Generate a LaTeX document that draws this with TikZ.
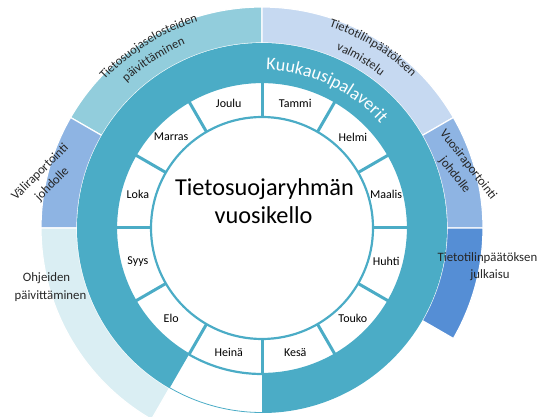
\documentclass[tikz,border=0pt]{standalone}
\usepackage{fontspec}
\setmainfont{Carlito}
\usetikzlibrary{decorations.text}
\definecolor{ringteal}{HTML}{4BACC6}
\definecolor{segteal}{HTML}{92CDDC}
\definecolor{segpale}{HTML}{DAEEF3}
\definecolor{segblue}{HTML}{8EB4E3}
\definecolor{seglight}{HTML}{C6D9F1}
\definecolor{segdark}{HTML}{558ED5}
\definecolor{labelink}{HTML}{262626}
\newcommand\ringsec[5]{%
  \path[#1] (#2:#5) arc[start angle=#2,end angle=#3,radius=#5]
    -- (#3:#4) arc[start angle=#3,end angle=#2,radius=#4] -- cycle;}
\begin{document}
\begin{tikzpicture}[x=1pt,y=1pt,
  seg/.style={draw=white,line width=1.2pt},
  monthlbl/.style={font=\fontsize{12}{14}\selectfont,text=black,inner sep=0pt},
  outerlbl/.style={font=\fontsize{12.8}{17}\selectfont,text=labelink,inner sep=0pt},
  titlelbl/.style={font=\fontsize{24.3}{28}\selectfont,text=black,inner sep=0pt},
  divider/.style={draw=ringteal,line width=3pt},
  rim/.style={draw=ringteal,line width=2.2pt}]
\useasboundingbox (0,0) rectangle (539,-417);
\begin{scope}[shift={(262,-228)}]
  % outer segments
  \ringsec{seg,fill=segteal}{90}{150}{185pt}{221pt}
  \ringsec{seg,fill=segblue}{150}{180}{185pt}{221pt}
  \ringsec{seg,fill=segpale}{180}{240}{185pt}{221pt}
  \ringsec{seg,fill=seglight}{30}{90}{185pt}{221pt}
  \ringsec{seg,fill=segblue}{0}{30}{185pt}{221pt}
  \ringsec{seg,fill=segdark}{-30}{0}{185pt}{221pt}
  % monthly meeting ring
  \ringsec{fill=ringteal}{-90}{240}{146pt}{185pt}
  \draw[ringteal,line width=0.8pt] (240:184.5pt) arc[start angle=240,end angle=270,radius=184.5pt];
  % month ring
  \draw[rim] (0,0) circle[radius=111pt];
  \draw[rim] (0,0) circle[radius=146pt];
  \foreach \a in {0,30,...,330} \draw[divider] (\a:111pt) -- (\a:146pt);
  % month labels
  \foreach \ang/\m/\k in {75/Tammi/1,45/Helmi/2,15/Maalis/3,-15/Huhti/4,-45/Touko/5,-75/Kesä/6,
      -105/Heinä/7,-135/Elo/8,-165/Syys/9,165/Loka/10,135/Marras/11,105/Joulu/12}
    \node[monthlbl] (mon\k) at (\ang:128.5pt) {\m};
  % curved texts
  \path[decorate,decoration={text along path,text align=left,text color=white,
      text={|\fontsize{18}{20}\selectfont|Kuukausipalaverit}}]
    (88.5:158pt) arc[start angle=88.5,end angle=15,radius=158pt];
  \path[decorate,decoration={text along path,text align=center,text color=labelink,
      text={|\fontsize{12.5}{15}\selectfont|Tietosuojaselosteiden}}]
    (157:216pt) arc[start angle=157,end angle=87,radius=216pt];
  \path[decorate,decoration={text along path,text align=center,text color=labelink,
      text={|\fontsize{12.5}{15}\selectfont|päivittäminen}}]
    (157.8:199pt) arc[start angle=157.8,end angle=87.8,radius=199pt];
  \path[decorate,decoration={text along path,text align=center,text color=labelink,
      text={|\fontsize{12.5}{15}\selectfont|Tietotilinpäätöksen}}]
    (93.4:212.5pt) arc[start angle=93.4,end angle=23.4,radius=212.5pt];
  \path[decorate,decoration={text along path,text align=center,text color=labelink,
      text={|\fontsize{12.5}{15}\selectfont|valmistelu}}]
    (94.7:193pt) arc[start angle=94.7,end angle=24.7,radius=193pt];
\end{scope}
% straight labels
\node[outerlbl,rotate=45,align=center] (vali) at (46.2,-178.3) {Väliraportointi\\johdolle};
\node[outerlbl,rotate=-52,align=center] (vuosi) at (461.4,-170) {Vuosiraportointi\\johdolle};
\node[outerlbl,anchor=base] (julk1) at (487.5,-261.7) {Tietotilinpäätöksen};
\node[outerlbl,anchor=base] (julk2) at (490,-278.3) {julkaisu};
\node[outerlbl,anchor=base] (ohje1) at (46.5,-282) {Ohjeiden};
\node[outerlbl,anchor=base] (ohje2) at (50.5,-299) {päivittäminen};
% title
\node[titlelbl,anchor=base] (title1) at (264.5,-196) {Tietosuojaryhmän};
\node[titlelbl,anchor=base] (title2) at (263.5,-223.3) {vuosikello};
\end{tikzpicture}
\end{document}
